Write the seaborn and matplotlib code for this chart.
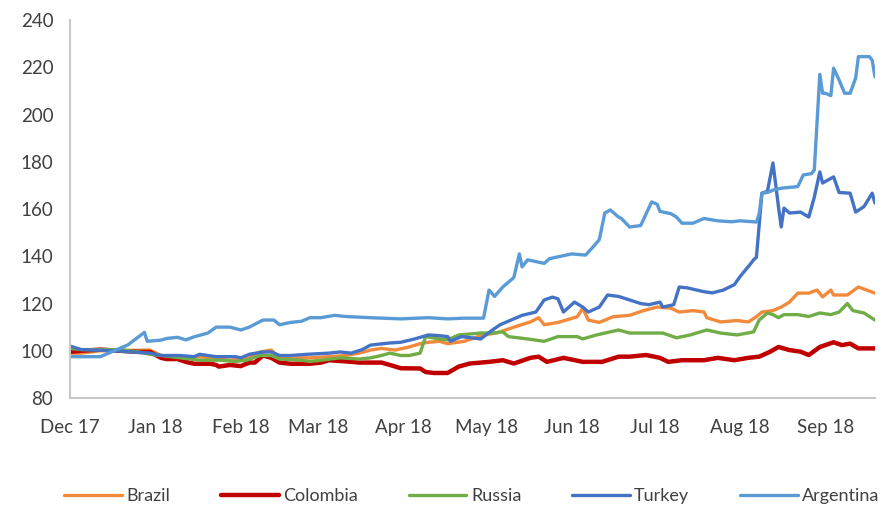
import numpy as np
import pandas as pd
import matplotlib
matplotlib.use("Agg")
import matplotlib.pyplot as plt
import matplotlib.dates as mdates
import seaborn as sns

# values (index, Dec 17 ~ 100)
argentina_dates = ["2017-12-01", "2017-12-12", "2017-12-17", "2017-12-22", "2017-12-28", "2017-12-29",
                   "2018-01-03", "2018-01-05", "2018-01-09", "2018-01-12", "2018-01-15", "2018-01-20",
                   "2018-01-23", "2018-01-28", "2018-02-01", "2018-02-04", "2018-02-09", "2018-02-13",
                   "2018-02-15", "2018-02-19", "2018-02-23", "2018-02-26", "2018-03-02", "2018-03-07",
                   "2018-03-11", "2018-03-20", "2018-03-31", "2018-04-10", "2018-04-17", "2018-04-23",
                   "2018-04-30", "2018-05-02", "2018-05-04", "2018-05-07", "2018-05-11", "2018-05-13",
                   "2018-05-14", "2018-05-16", "2018-05-22", "2018-05-24", "2018-06-01", "2018-06-06",
                   "2018-06-08", "2018-06-11", "2018-06-13", "2018-06-15", "2018-06-18", "2018-06-19",
                   "2018-06-22", "2018-06-26", "2018-06-28", "2018-06-30", "2018-07-02", "2018-07-03",
                   "2018-07-07", "2018-07-09", "2018-07-11", "2018-07-15", "2018-07-19", "2018-07-24",
                   "2018-07-29", "2018-08-01", "2018-08-07", "2018-08-08", "2018-08-09", "2018-08-11",
                   "2018-08-13", "2018-08-16", "2018-08-22", "2018-08-24", "2018-08-27", "2018-08-28",
                   "2018-08-30", "2018-08-31", "2018-09-01", "2018-09-03", "2018-09-04", "2018-09-06",
                   "2018-09-08", "2018-09-10", "2018-09-12", "2018-09-13", "2018-09-17", "2018-09-18",
                   "2018-09-19"]
argentina = [97.5, 97.5, 100, 102.5, 107.8, 104,
             104.5, 105.2, 105.7, 104.6, 105.9, 107.5,
             110, 110, 108.8, 110, 113, 113,
             111, 112, 112.5, 114, 114, 115,
             114.5, 114, 113.5, 114, 113.5, 113.8,
             113.8, 125.7, 123, 127, 131, 141,
             135.5, 138.5, 137, 139, 141, 140.5,
             143, 147, 158.3, 159.6, 156.6, 156,
             152.4, 153, 158, 163, 162, 159,
             158, 156.6, 154, 154, 156, 155,
             154.6, 155, 154.5, 158, 166.7, 167,
             168, 168.8, 169.5, 174.4, 175, 176.5,
             217, 209, 209, 208, 219.6, 214.6,
             209, 209, 215.4, 224.5, 224.5, 223,
             216]

turkey_dates = ["2017-12-01", "2017-12-05", "2017-12-17", "2017-12-30", "2018-01-03", "2018-01-10",
                "2018-01-15", "2018-01-17", "2018-01-23", "2018-01-30", "2018-02-01", "2018-02-04",
                "2018-02-09", "2018-02-12", "2018-02-15", "2018-02-19", "2018-02-25", "2018-03-05",
                "2018-03-09", "2018-03-13", "2018-03-17", "2018-03-20", "2018-03-27", "2018-03-31",
                "2018-04-05", "2018-04-10", "2018-04-13", "2018-04-17", "2018-04-18", "2018-04-22",
                "2018-04-29", "2018-05-03", "2018-05-06", "2018-05-10", "2018-05-14", "2018-05-19",
                "2018-05-22", "2018-05-25", "2018-05-27", "2018-05-29", "2018-06-02", "2018-06-05",
                "2018-06-07", "2018-06-11", "2018-06-14", "2018-06-18", "2018-06-22", "2018-06-26",
                "2018-06-29", "2018-07-03", "2018-07-04", "2018-07-08", "2018-07-10", "2018-07-13",
                "2018-07-19", "2018-07-22", "2018-07-26", "2018-07-30", "2018-08-01", "2018-08-05",
                "2018-08-06", "2018-08-07", "2018-08-09", "2018-08-11", "2018-08-13", "2018-08-15",
                "2018-08-16", "2018-08-17", "2018-08-19", "2018-08-23", "2018-08-26", "2018-08-28",
                "2018-08-30", "2018-08-31", "2018-09-04", "2018-09-06", "2018-09-10", "2018-09-12",
                "2018-09-15", "2018-09-18", "2018-09-19"]
turkey = [102, 100.5, 100, 99, 98, 98,
          97.5, 98.5, 97.5, 97.5, 97, 98.5,
          99.5, 99.5, 98, 98, 98.5, 99,
          99.5, 99, 100.5, 102.4, 103.3, 103.6,
          105, 106.7, 106.5, 106, 104, 106,
          105, 108.6, 111, 113, 115, 116.4,
          121.5, 122.7, 122, 116.4, 120.6, 118.5,
          116.4, 118.5, 123.6, 123, 121.5, 120,
          119.5, 120.6, 118.5, 119.5, 127, 126.6,
          125, 124.5, 125.7, 128, 131.3, 137,
          138.5, 139.6, 166.7, 167.5, 179.5, 161,
          152.4, 160.4, 158.3, 158.7, 156.6, 165,
          175.7, 171, 173.6, 167, 166.7, 158.7,
          161, 166.7, 162.5]

brazil_dates = ["2017-12-01", "2017-12-05", "2017-12-12", "2017-12-30", "2018-01-03", "2018-01-10",
                "2018-01-17", "2018-01-21", "2018-01-28", "2018-02-04", "2018-02-08", "2018-02-12",
                "2018-02-15", "2018-02-23", "2018-02-26", "2018-03-05", "2018-03-11", "2018-03-16",
                "2018-03-20", "2018-03-24", "2018-03-29", "2018-04-03", "2018-04-07", "2018-04-10",
                "2018-04-14", "2018-04-17", "2018-04-23", "2018-04-30", "2018-05-05", "2018-05-11",
                "2018-05-17", "2018-05-20", "2018-05-22", "2018-05-27", "2018-05-30", "2018-06-03",
                "2018-06-05", "2018-06-07", "2018-06-11", "2018-06-16", "2018-06-22", "2018-06-27",
                "2018-07-02", "2018-07-07", "2018-07-10", "2018-07-15", "2018-07-19", "2018-07-20",
                "2018-07-25", "2018-07-31", "2018-08-04", "2018-08-07", "2018-08-09", "2018-08-13",
                "2018-08-16", "2018-08-19", "2018-08-22", "2018-08-26", "2018-08-29", "2018-08-31",
                "2018-09-03", "2018-09-04", "2018-09-09", "2018-09-13", "2018-09-16", "2018-09-19"]
brazil = [99, 99, 100, 100.3, 98, 97.5,
          97.5, 97, 96, 97, 99.5, 100.3,
          97, 97, 97, 97.5, 98, 99,
          100.3, 101, 100.3, 101.6, 103, 103.6,
          104, 103, 104, 106.7, 107.6, 110,
          112.2, 114, 111, 112, 113, 114.4,
          118, 113, 112, 114.4, 115, 117,
          118.5, 118, 116.4, 117, 116.4, 114,
          112.2, 112.8, 112.2, 114.4, 116.4, 117,
          118.5, 120.6, 124.4, 124.4, 125.7, 122.8,
          125.7, 123.6, 123.6, 127, 125.7, 124.4]

russia_dates = ["2017-12-01", "2017-12-05", "2017-12-19", "2017-12-26", "2017-12-30", "2018-01-03",
                "2018-01-10", "2018-01-17", "2018-01-24", "2018-01-30", "2018-02-03", "2018-02-08",
                "2018-02-12", "2018-02-15", "2018-02-23", "2018-02-26", "2018-03-02", "2018-03-09",
                "2018-03-16", "2018-03-20", "2018-03-24", "2018-03-27", "2018-03-31", "2018-04-03",
                "2018-04-07", "2018-04-09", "2018-04-14", "2018-04-17", "2018-04-21", "2018-04-29",
                "2018-05-03", "2018-05-07", "2018-05-09", "2018-05-16", "2018-05-22", "2018-05-27",
                "2018-06-03", "2018-06-05", "2018-06-10", "2018-06-18", "2018-06-22", "2018-06-28",
                "2018-07-04", "2018-07-09", "2018-07-14", "2018-07-20", "2018-07-25", "2018-07-31",
                "2018-08-06", "2018-08-08", "2018-08-11", "2018-08-13", "2018-08-15", "2018-08-17",
                "2018-08-22", "2018-08-26", "2018-08-30", "2018-09-03", "2018-09-06", "2018-09-09",
                "2018-09-11", "2018-09-15", "2018-09-19"]
russia = [101, 100.5, 100.5, 99.5, 98.5, 98,
          97, 96, 96, 95.5, 96, 98,
          98, 96.5, 96, 95.5, 96, 97,
          96.5, 97, 98, 99, 98, 98,
          99, 106, 105, 104.6, 106.7, 107.5,
          107.5, 108, 106, 105, 104, 106,
          106, 105, 106.7, 108.8, 107.5, 107.5,
          107.5, 105.5, 106.7, 108.8, 107.5, 106.7,
          108, 113, 116, 115.3, 114, 115.3,
          115.3, 114.5, 116, 115.3, 116.4, 120,
          117, 116, 113]

colombia_dates = ["2017-12-01", "2017-12-05", "2017-12-12", "2017-12-19", "2017-12-26", "2017-12-30",
                  "2018-01-03", "2018-01-05", "2018-01-09", "2018-01-12", "2018-01-15", "2018-01-21",
                  "2018-01-23", "2018-01-24", "2018-01-28", "2018-02-01", "2018-02-04", "2018-02-06",
                  "2018-02-09", "2018-02-12", "2018-02-15", "2018-02-19", "2018-02-26", "2018-03-02",
                  "2018-03-05", "2018-03-11", "2018-03-16", "2018-03-24", "2018-03-27", "2018-03-31",
                  "2018-04-07", "2018-04-09", "2018-04-12", "2018-04-17", "2018-04-21", "2018-04-25",
                  "2018-05-02", "2018-05-07", "2018-05-11", "2018-05-17", "2018-05-20", "2018-05-23",
                  "2018-05-29", "2018-06-05", "2018-06-12", "2018-06-18", "2018-06-22", "2018-06-28",
                  "2018-07-03", "2018-07-06", "2018-07-11", "2018-07-19", "2018-07-24", "2018-07-30",
                  "2018-08-04", "2018-08-08", "2018-08-12", "2018-08-15", "2018-08-19", "2018-08-23",
                  "2018-08-26", "2018-08-30", "2018-09-04", "2018-09-07", "2018-09-10", "2018-09-13",
                  "2018-09-19"]
colombia = [99.5, 100, 100.5, 100, 99.5, 99.5,
            97, 96.5, 96.5, 95.3, 94.5, 94.5,
            94, 93.3, 94, 93.5, 95, 95,
            98, 97, 95, 94.5, 94.5, 95,
            96, 95.5, 95, 95, 94, 92.6,
            92.5, 91, 90.6, 90.6, 93.3, 94.6,
            95.3, 96, 94.6, 97, 97.5, 95.3,
            97, 95.3, 95.3, 97.5, 97.5, 98.2,
            97, 95.3, 96, 96, 97, 96,
            97, 97.5, 99.6, 101.6, 100.3, 99.6,
            98.2, 101.6, 103.6, 102.4, 103, 101,
            101]

series_names = ["Brazil", "Colombia", "Russia", "Turkey", "Argentina"]
series_colors = ["#F28A3C", "#C00000", "#70AD47", "#4472C4", "#5B9BD5"]
series_widths = [2.4, 3.2, 2.4, 2.4, 2.4]

series_data = {
    "Brazil": (brazil_dates, brazil),
    "Colombia": (colombia_dates, colombia),
    "Russia": (russia_dates, russia),
    "Turkey": (turkey_dates, turkey),
    "Argentina": (argentina_dates, argentina),
}

sns.set_style("white")
plt.rcParams["font.family"] = ["Lato", "DejaVu Sans"]

fig = plt.figure(figsize=(8.82, 5.08), dpi=100)
ax = fig.add_axes([0.0794, 0.2165, 0.9126, 0.7441])

for name, color, lw in zip(series_names, series_colors, series_widths):
    dates, vals = series_data[name]
    df = pd.DataFrame({"date": pd.to_datetime(dates), "value": vals})
    sns.lineplot(data=df, x="date", y="value", ax=ax, color=color, linewidth=lw,
                 label=name, estimator=None)

ax.set_xlim(pd.Timestamp("2017-12-01"), pd.Timestamp("2018-09-19"))
ax.set_ylim(80, 240)
ax.set_yticks(np.arange(80, 241, 20))
ax.xaxis.set_major_locator(mdates.MonthLocator())
ax.xaxis.set_major_formatter(mdates.DateFormatter("%b %y"))
ax.set_xlabel("")
ax.set_ylabel("")

for side in ["top", "right"]:
    ax.spines[side].set_visible(False)
for side in ["left", "bottom"]:
    ax.spines[side].set_color("#c8c8c8")
    ax.spines[side].set_linewidth(1.5)

ax.tick_params(axis="x", direction="in", length=5, width=1.2, color="#c8c8c8",
               labelsize=13.5, labelcolor="#404040", pad=15)
ax.tick_params(axis="y", direction="in", length=4, width=1.2, color="#c8c8c8",
               labelsize=13.5, labelcolor="#404040", pad=12)

ax.get_legend().remove()
handles, labels = ax.get_legend_handles_labels()
fig.legend(handles, labels, loc="lower center", bbox_to_anchor=(0.535, -0.024), ncol=5,
           frameon=False, fontsize=13, handlelength=3.2, handletextpad=0.25,
           columnspacing=2.8, labelcolor="#404040")

fig.savefig("out.png", dpi=100)
